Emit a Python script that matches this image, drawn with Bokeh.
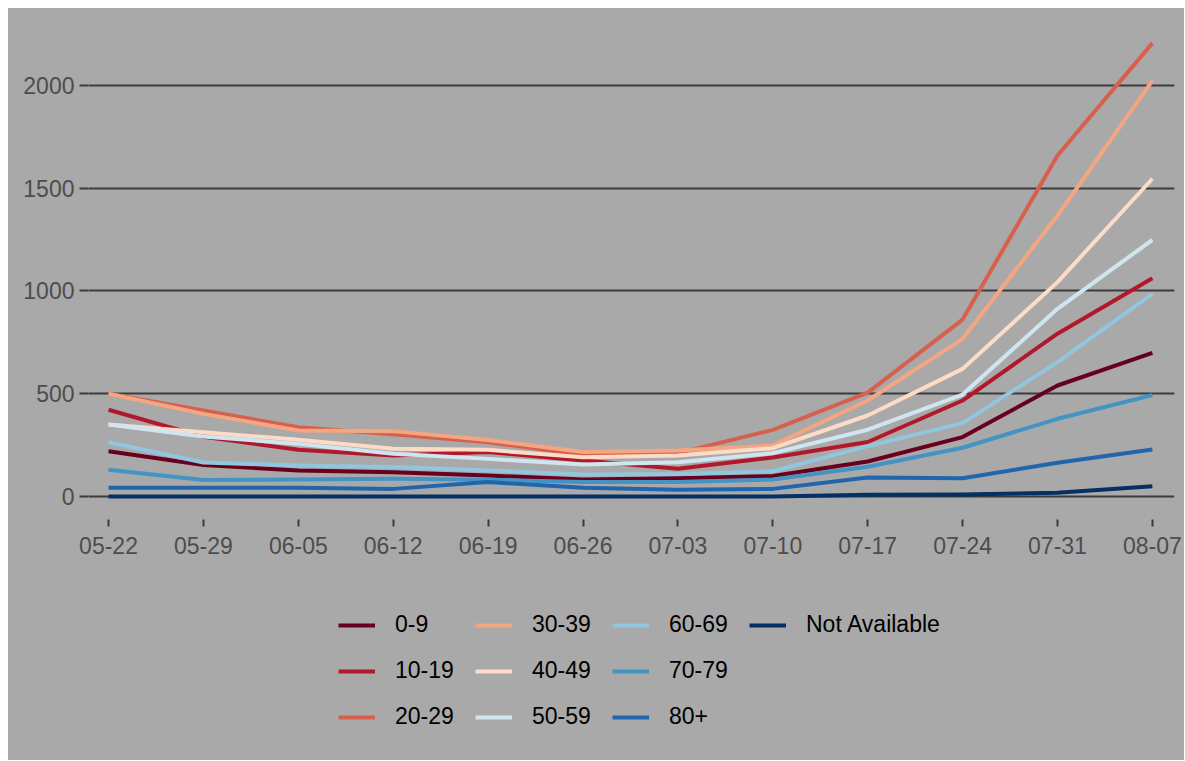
from bokeh.plotting import figure
from bokeh.models import Range1d, FixedTicker, Legend, LegendItem, Spacer
from bokeh.layouts import column, row
from bokeh.embed import file_html
from bokeh.resources import INLINE

dates = ["05-22", "05-29", "06-05", "06-12", "06-19", "06-26",
         "07-03", "07-10", "07-17", "07-24", "07-31", "08-07"]

a0_9 = [220, 153, 127, 118, 102, 83, 89, 100, 170, 289, 540, 699]
a10_19 = [422, 290, 227, 200, 216, 175, 135, 190, 265, 467, 792, 1062]
a20_29 = [500, 418, 337, 303, 264, 203, 211, 324, 505, 861, 1659, 2206]
a30_39 = [500, 402, 321, 318, 275, 216, 224, 248, 467, 767, 1367, 2024]
a40_49 = [350, 312, 276, 232, 227, 191, 200, 235, 394, 621, 1043, 1546]
a50_59 = [350, 292, 256, 208, 183, 156, 167, 211, 325, 496, 913, 1249]
a60_69 = [264, 165, 151, 143, 127, 107, 110, 123, 245, 357, 654, 986]
a70_79 = [130, 80, 83, 86, 81, 70, 70, 83, 145, 237, 378, 493]
a80_plus = [42, 42, 42, 37, 70, 42, 33, 37, 92, 89, 164, 229]
a_na = [0, 0, 0, 0, 0, 0, 0, 0, 8, 10, 18, 50]

groups = ["0-9", "10-19", "20-29", "30-39", "40-49",
          "50-59", "60-69", "70-79", "80+", "Not Available"]
series = [a0_9, a10_19, a20_29, a30_39, a40_49,
          a50_59, a60_69, a70_79, a80_plus, a_na]
colors = ["#67001f", "#b2182b", "#d6604d", "#f4a582", "#fddbc7",
          "#d1e5f0", "#92c5de", "#4393c3", "#2166ac", "#053061"]
y_ticks = [0, 500, 1000, 1500, 2000]

BG = "#a9a9a9"
GRID = "#3c3c3c"
FONT = "Liberation Sans"
LW = 4

# ---- main chart ----
fig = figure(width=1176, height=560, output_backend="svg", toolbar_location=None,
             x_range=Range1d(-0.211, 11.233), y_range=Range1d(-112, 2321),
             min_border_left=80, min_border_right=10, min_border_top=11,
             min_border_bottom=49)
fig.background_fill_color = None
fig.border_fill_color = None
fig.outline_line_color = None

xs = list(range(len(dates)))
for vals, col in zip(series, colors):
    fig.line(xs, vals, line_color=col, line_width=LW, line_join="round")

fig.xgrid.grid_line_color = None
fig.ygrid.grid_line_color = GRID
fig.ygrid.grid_line_width = 2
fig.ygrid.ticker = FixedTicker(ticks=y_ticks)

fig.yaxis.ticker = FixedTicker(ticks=y_ticks)
fig.xaxis.ticker = FixedTicker(ticks=xs)
fig.xaxis.major_label_overrides = {i: d for i, d in enumerate(dates)}

for ax in (fig.xaxis[0], fig.yaxis[0]):
    ax.axis_line_color = None
    ax.major_tick_line_color = GRID
    ax.major_tick_line_width = 2
    ax.major_tick_in = 0
    ax.minor_tick_line_color = None
    ax.major_label_text_font = FONT
    ax.major_label_text_font_size = "23px"
    ax.major_label_text_color = "#4d4d4d"
fig.yaxis.major_tick_out = 9
fig.yaxis.major_label_standoff = 5
fig.xaxis.major_tick_out = 7
fig.xaxis.major_label_standoff = 10

# ---- legend panel (same series, drawn outside its visible range) ----
leg = figure(width=1176, height=192, output_backend="svg", toolbar_location=None,
             x_range=Range1d(-0.211, 11.233), y_range=Range1d(-1000, -900),
             x_axis_location=None, y_axis_location=None,
             min_border_left=0, min_border_right=0, min_border_top=0,
             min_border_bottom=0)
leg.background_fill_color = None
leg.border_fill_color = None
leg.outline_line_color = None
leg.xgrid.grid_line_color = None
leg.ygrid.grid_line_color = None

items = []
for name, vals, col in zip(groups, series, colors):
    r = leg.line(xs, vals, line_color=col, line_width=LW)
    items.append(LegendItem(label=name, renderers=[r]))

legend = Legend(items=items, orientation="vertical", nrows=3,
                location=(240, 20), margin=0, padding=10,
                glyph_width=37, glyph_height=20, label_standoff=20,
                label_width=61, spacing=19, label_text_font=FONT,
                label_text_font_size="23px", label_text_color="#000000",
                background_fill_alpha=0, border_line_alpha=0)
leg.add_layout(legend, "center")

chart = column(fig, leg, styles={"background-color": BG})
p = column(Spacer(height=8), row(Spacer(width=8), chart))

open("out.html", "w").write(file_html(p, INLINE))
